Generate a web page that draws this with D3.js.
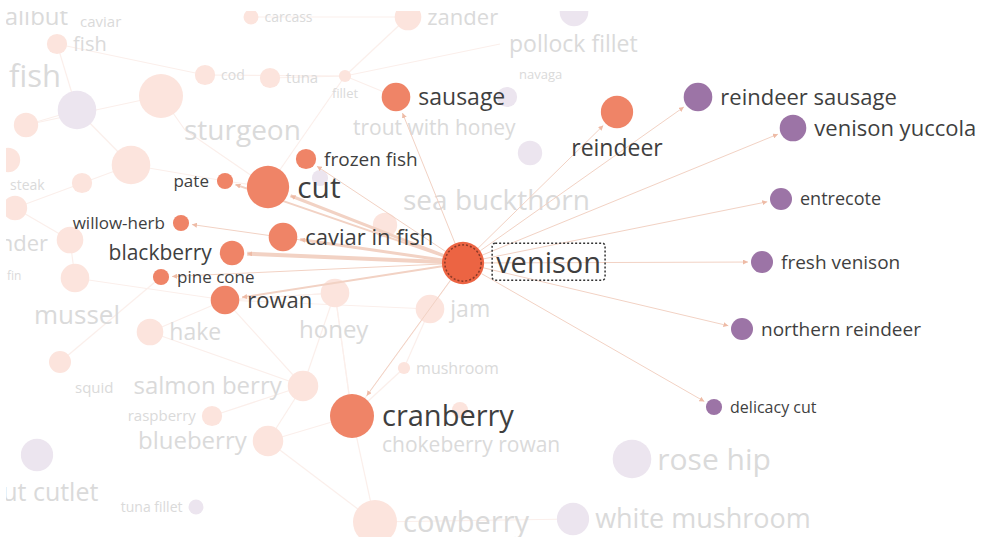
<!DOCTYPE html>
<html>
<head>
<meta charset="utf-8">
<script src="https://cdn.jsdelivr.net/npm/d3@7"></script>
<style>
  html, body { margin: 0; padding: 0; background: #fff; }
  svg { display: block; font-family: "Open Sans", sans-serif; }
</style>
</head>
<body>
<div id="chart"></div>
<script>
// graph data: layout coordinates, node weight, group, whether linked to the focus node
const nodeNames  = ["venison", "sausage", "reindeer", "reindeer sausage", "venison yuccola", "entrecote",
  "fresh venison", "northern reindeer", "delicacy cut", "frozen fish", "pate", "cut", "willow-herb",
  "caviar in fish", "blackberry", "pine cone", "rowan", "cranberry",
  // faded neighbourhood
  "halibut", "caviar fish", "fish", "purple1", "big1", "left1", "cod", "tuna", "fillet", "sturgeon",
  "trout with honey", "carcass", "zander", "purple2", "pollock fillet", "navaga", "purple3", "purple4",
  "sea buckthorn", "big2", "left2", "steak", "left3", "flounder", "fin", "mussel", "hake", "honey", "jam",
  "n1", "mushroom", "squid", "salmon berry", "raspberry", "blueberry", "chokeberry rowan", "n2",
  "purple5", "trout cutlet", "tuna fillet", "rose hip", "cowberry", "white mushroom", "big fish", "n3", "purple6"];
const nodeX      = [463, 396, 617, 698, 793, 781, 762, 742, 714, 306, 225, 268, 181, 283, 232, 161, 225, 352,
  -60, 57, 57, 77, 161, 26, 205, 270, 345, 185, 340, 251, 408, 574, 500, 510, 507, 530,
  400, 131, 8, 82, 15, 70, 75, 20, 150, 335, 430,
  60, 404, 60, 303, 212, 268, 370, 460,
  37, -10, 196, 632, 375, 573, 0, 385, 320];
const nodeY      = [263, 97, 112, 97, 128, 199, 262, 329, 407, 159, 181, 187, 223, 237, 253, 277, 300, 416,
  18, 22, 44, 110, 96, 125, 75, 78, 76, 130, 128, 17, 17, 12, 44, 74, 97, 153,
  200, 165, 160, 183, 208, 240, 278, 315, 332, 293, 309,
  362, 368, 388, 386, 416, 441, 444, 410,
  455, 492, 507, 459, 522, 519, 77, 225, 178];
const nodeWeight = [48, 22, 28, 22, 19, 13, 13, 13, 7, 11, 7, 48, 7, 22, 16, 7, 22, 52,
  0, 0, 11, 40, 52, 16, 11, 11, 4, 0, 0, 6, 19, 22, 0, 0, 11, 16,
  0, 40, 16, 11, 16, 19, 22, 0, 19, 22, 22,
  13, 4, 0, 25, 11, 25, 0, 7,
  28, 0, 6, 40, 52, 28, 0, 16, 7];
const nodeGroup  = ["meat", "meat", "meat", "deer", "deer", "deer", "deer", "deer", "deer", "meat", "meat",
  "meat", "meat", "meat", "meat", "meat", "meat", "meat",
  "meat", "meat", "meat", "deer", "meat", "meat", "meat", "meat", "meat", "meat", "meat", "meat", "meat",
  "deer", "meat", "meat", "deer", "deer",
  "meat", "meat", "meat", "meat", "meat", "meat", "meat", "meat", "meat", "meat", "meat",
  "meat", "meat", "meat", "meat", "meat", "meat", "meat", "meat",
  "deer", "meat", "deer", "deer", "meat", "deer", "meat", "meat", "deer"];
const activeCount = 18;
// label: font size and side (r = right, l = left, b = below, c = free text, n = none)
const labelSize  = [29, 23, 23, 22, 22, 18, 19, 19, 16, 19, 17, 30, 17, 22, 21, 17, 22, 29,
  24, 15, 20, 0, 0, 0, 14, 15, 13, 28, 21, 14, 22, 0, 23, 13, 0, 0,
  28, 0, 0, 14, 0, 22, 12, 26, 23, 24, 23,
  0, 16, 15, 24, 15, 24, 21, 0,
  0, 25, 14, 30, 29, 27, 31, 0, 0];
const labelSide  = ["r", "r", "b", "r", "r", "r", "r", "r", "r", "r", "l", "r", "l", "r", "l", "r", "r", "r",
  "c", "c", "r", "n", "n", "n", "r", "r", "b", "c", "c", "r", "r", "n", "c", "c", "n", "n",
  "c", "n", "n", "c", "n", "c", "c", "c", "r", "c", "r",
  "n", "r", "c", "l", "l", "l", "c", "n",
  "n", "c", "l", "r", "r", "r", "c", "n", "n"];
const labelText  = ["venison", "sausage", "reindeer", "reindeer sausage", "venison yuccola", "entrecote",
  "fresh venison", "northern reindeer", "delicacy cut", "frozen fish", "pate", "cut", "willow-herb",
  "caviar in fish", "blackberry", "pine cone", "rowan", "cranberry",
  "halibut", "caviar", "fish", "", "", "", "cod", "tuna", "fillet", "sturgeon",
  "trout with honey", "carcass", "zander", "", "pollock fillet", "navaga", "", "",
  "sea buckthorn", "", "", "steak", "", "flounder", "fin", "mussel", "hake", "honey", "jam",
  "", "mushroom", "squid", "salmon berry", "raspberry", "blueberry", "chokeberry rowan", "",
  "", "trout cutlet", "tuna fillet", "rose hip", "cowberry", "white mushroom", "fish", "", ""];
// free-text anchors for faded labels (layout coordinates of the label start)
const freeLabelX = {"halibut": -10, "caviar fish": 80, "sturgeon": 184, "trout with honey": 353, "pollock fillet": 509,
  "navaga": 519, "sea buckthorn": 403, "mussel": 34, "honey": 299, "squid": 75, "chokeberry rowan": 382,
  "trout cutlet": -32, "steak": 10, "flounder": -40, "fin": 7, "big fish": 9};
const freeLabelY = {"halibut": 17, "caviar fish": 22, "sturgeon": 130, "trout with honey": 128, "pollock fillet": 44,
  "navaga": 74, "sea buckthorn": 200, "mussel": 315, "honey": 330, "squid": 388, "chokeberry rowan": 445,
  "trout cutlet": 492, "steak": 185, "flounder": 243, "fin": 276, "big fish": 76};

// links
const focusLinks = ["sausage", "reindeer", "reindeer sausage", "venison yuccola", "entrecote", "fresh venison",
  "northern reindeer", "delicacy cut", "frozen fish", "pate", "cut", "willow-herb", "caviar in fish",
  "blackberry", "pine cone", "rowan", "cranberry"];
const focusLinkWeight = [1, 1, 1, 1, 1, 1, 1, 1, 1, 2, 3, 1, 3, 4, 1, 2, 1];
const fadedSource = ["fish", "fish", "big1", "big1", "tuna", "fillet", "fillet", "fillet", "cod", "left1",
  "purple1", "big2", "big2", "left3", "flounder", "fin", "hake", "hake", "honey", "honey", "salmon berry",
  "salmon berry", "salmon berry", "raspberry", "blueberry", "blueberry", "cranberry", "cranberry",
  "cranberry", "mushroom", "jam", "n1", "cowberry", "cowberry", "rowan", "rowan", "cut", "pate",
  "fillet", "zander"];
const fadedTarget = ["purple1", "cod", "sturgeon", "left1", "fillet", "cut", "zander", "sausage", "fillet",
  "purple1", "big2", "pate", "left3", "flounder", "fin", "rowan", "rowan", "salmon berry", "rowan", "cranberry",
  "rowan", "blueberry", "honey", "salmon berry", "cranberry", "cowberry", "jam", "mushroom", "honey",
  "jam", "venison", "pine cone", "cranberry", "white mushroom", "honey", "jam", "sturgeon", "cut",
  "pollock fillet", "carcass"];

const width = 981, height = 537;
const x = d3.scaleLinear().domain([0, 981]).range([0, width]);
const y = d3.scaleLinear().domain([0, 537]).range([0, height]);
const r = d3.scaleSqrt().domain([0, 52]).range([0, 22]);
const fill = d3.scaleOrdinal().domain(["meat", "deer"]).range(["#ef8467", "#9c74a6"]);
const fillFaded = d3.scaleOrdinal().domain(["meat", "deer"]).range(["#fce4dd", "#ece5ef"]);

const nodes = nodeNames.map((name, i) => ({
  name, x: nodeX[i], y: nodeY[i], w: nodeWeight[i], group: nodeGroup[i],
  active: i < activeCount, fs: labelSize[i], side: labelSide[i], text: labelText[i]
}));
const byName = new Map(nodes.map(d => [d.name, d]));

const svg = d3.select("#chart").append("svg").attr("width", width).attr("height", height);

const defs = svg.append("defs");
defs.append("marker")
  .attr("id", "arrow").attr("viewBox", "0 -5 10 10")
  .attr("refX", 10).attr("refY", 0)
  .attr("markerWidth", 5).attr("markerHeight", 5).attr("markerUnits", "userSpaceOnUse")
  .attr("orient", "auto")
  .append("path").attr("d", "M0,-5L10,0L0,5").attr("fill", "#eebba6");
// the view is a cropped window onto a larger graph
defs.append("clipPath").attr("id", "view")
  .append("rect").attr("x", 6).attr("y", 11).attr("width", width - 6).attr("height", height - 11);

const g = svg.append("g").attr("clip-path", "url(#view)");

// faded background links
g.append("g").selectAll("line").data(fadedSource.map((s, i) => ({s: byName.get(s), t: byName.get(fadedTarget[i])})))
  .enter().append("line")
  .attr("x1", d => x(d.s.x)).attr("y1", d => y(d.s.y))
  .attr("x2", d => x(d.t.x)).attr("y2", d => y(d.t.y))
  .attr("stroke", "#fbefeb").attr("stroke-width", 1.2);

// faded nodes
const faded = nodes.filter(d => !d.active);
g.append("g").selectAll("circle").data(faded.filter(d => d.w > 0)).enter().append("circle")
  .attr("cx", d => x(d.x)).attr("cy", d => y(d.y)).attr("r", d => r(d.w))
  .attr("fill", d => fillFaded(d.group));

function labelPos(d, gap) {
  const rad = r(d.w);
  if (d.side === "c") return {x: x(freeLabelX[d.name]), y: y(freeLabelY[d.name]), anchor: "start"};
  if (d.side === "l") return {x: x(d.x) - rad - gap, y: y(d.y), anchor: "end"};
  if (d.side === "b") return {x: x(d.x), y: y(d.y) + rad + d.fs * 0.85, anchor: "middle"};
  return {x: x(d.x) + rad + gap, y: y(d.y), anchor: "start"};
}

g.append("g").selectAll("text").data(faded.filter(d => d.side !== "n")).enter().append("text")
  .each(function(d) {
    const p = labelPos(d, 6);
    d3.select(this).attr("x", p.x).attr("y", p.y).attr("text-anchor", p.anchor);
  })
  .attr("dy", "0.35em").attr("font-size", d => d.fs).attr("fill", "#dadada").text(d => d.text);

// links from the focus node
const focus = byName.get("venison");
const links = focusLinks.map((t, i) => ({s: focus, t: byName.get(t), w: focusLinkWeight[i]}));
g.append("g").selectAll("line").data(links).enter().append("line")
  .each(function(d) {
    const dx = x(d.t.x) - x(d.s.x), dy = y(d.t.y) - y(d.s.y), len = Math.hypot(dx, dy);
    const r0 = r(d.s.w), r1 = r(d.t.w) + 3;
    d3.select(this)
      .attr("x1", x(d.s.x) + dx / len * r0).attr("y1", y(d.s.y) + dy / len * r0)
      .attr("x2", x(d.t.x) - dx / len * r1).attr("y2", y(d.t.y) - dy / len * r1);
  })
  .attr("stroke", "#f2d2c4").attr("stroke-width", d => d.w)
  .attr("marker-end", "url(#arrow)");

// active nodes
const active = nodes.filter(d => d.active);
g.append("g").selectAll("circle").data(active).enter().append("circle")
  .attr("cx", d => x(d.x)).attr("cy", d => y(d.y)).attr("r", d => r(d.w))
  .attr("fill", d => d.name === "venison" ? "#ec6443" : fill(d.group));

g.append("circle").attr("cx", x(focus.x)).attr("cy", y(focus.y)).attr("r", r(focus.w) - 3)
  .attr("fill", "none").attr("stroke", "#8a3a28").attr("stroke-width", 1.5).attr("stroke-dasharray", "2,2");

const activeLabels = g.append("g").selectAll("text").data(active).enter().append("text")
  .each(function(d) {
    const p = labelPos(d, d.name === "venison" ? 12 : 8);
    d3.select(this).attr("x", p.x).attr("y", p.y).attr("text-anchor", p.anchor);
  })
  .attr("dy", "0.35em").attr("font-size", d => d.fs).attr("fill", "#3f3f3f").text(d => d.text);

// dotted focus box around the venison label
activeLabels.filter(d => d.name === "venison").each(function() {
  const b = this.getBBox();
  g.append("rect").attr("x", b.x - 4).attr("y", b.y + 1).attr("width", b.width + 8).attr("height", b.height - 2)
    .attr("rx", 3).attr("fill", "none").attr("stroke", "#333").attr("stroke-width", 1.5)
    .attr("stroke-dasharray", "2,2");
});
</script>
</body>
</html>
